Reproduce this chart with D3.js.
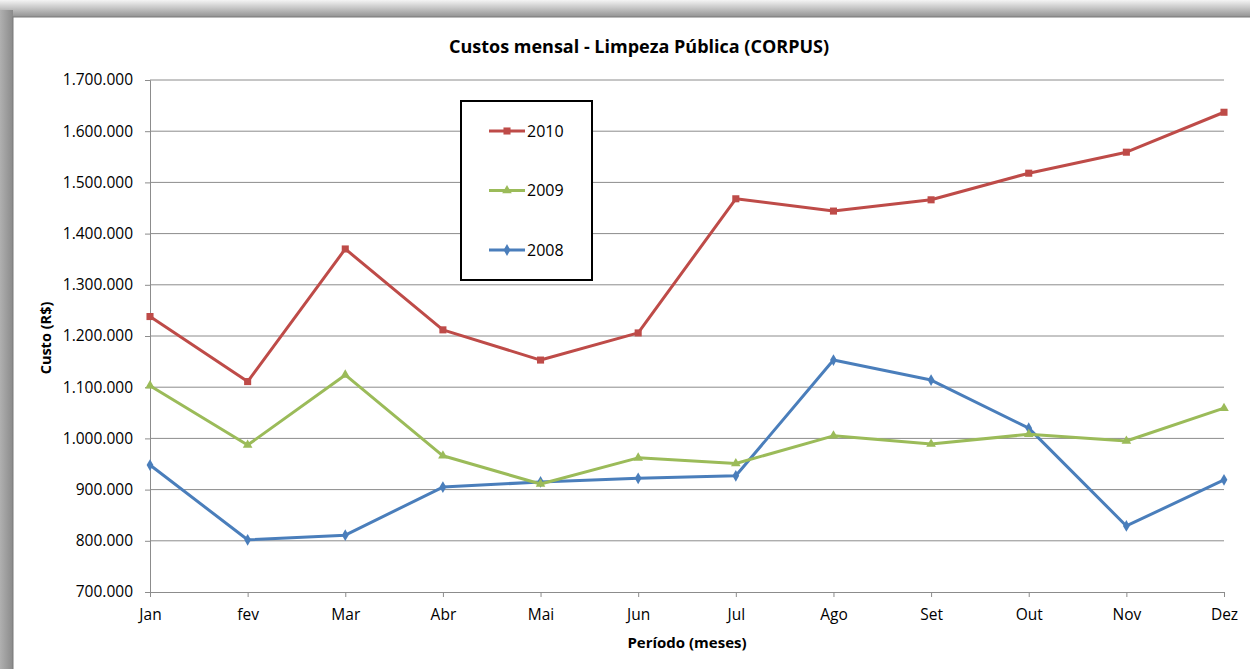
<!DOCTYPE html>
<html><head><meta charset="utf-8">
<script src="https://cdnjs.cloudflare.com/ajax/libs/d3/7.8.5/d3.min.js"></script>
<style>body{margin:0;background:#fff;}svg{display:block;}</style>
</head><body>
<script>
const months = ["Jan","fev","Mar","Abr","Mai","Jun","Jul","Ago","Set","Out","Nov","Dez"];
const values2010 = [1238000,1111000,1370000,1212000,1153000,1206000,1468000,1444000,1466000,1518000,1559000,1637000];
const values2009 = [1103000,987000,1124000,966000,911000,962000,951000,1005000,989000,1008000,995000,1059000];
const values2008 = [948000,802000,811000,905000,915000,922000,927000,1153000,1114000,1020000,829000,919000];
const yTicks = [700000,800000,900000,1000000,1100000,1200000,1300000,1400000,1500000,1600000,1700000];
const seriesNames = ["2010","2009","2008"];

const W=1250,H=669;
const font="'Open Sans', 'Noto Sans', sans-serif";
const svg=d3.select("body").append("svg").attr("width",W).attr("height",H);
const defs=svg.append("defs");
const gT=defs.append("linearGradient").attr("id","gt").attr("x1",0).attr("y1",0).attr("x2",0).attr("y2",1);
gT.append("stop").attr("offset",0).attr("stop-color","#f4f4f4");
gT.append("stop").attr("offset",1).attr("stop-color","#8c8c8c");
const gL=defs.append("linearGradient").attr("id","gl").attr("x1",0).attr("y1",0).attr("x2",1).attr("y2",0);
gL.append("stop").attr("offset",0).attr("stop-color","#b0b0b0");
gL.append("stop").attr("offset",1).attr("stop-color","#8a8a8a");
svg.append("rect").attr("x",0).attr("y",0).attr("width",W).attr("height",18).attr("fill","url(#gt)");
svg.append("rect").attr("x",0).attr("y",10).attr("width",13).attr("height",H).attr("fill","url(#gl)");
svg.append("rect").attr("x",13).attr("y",17).attr("width",W).attr("height",H).attr("fill","#fff").attr("stroke","#7a7a7a").attr("stroke-width",1);

const x=d3.scalePoint().domain(months).range([150,1224]);
const y=d3.scaleLinear().domain([700000,1700000]).range([592,80]);
const fmt=v=>d3.format(",")(v).replace(/,/g,".");

// gridlines
svg.append("g").selectAll("line").data(yTicks.slice(1)).join("line")
 .attr("x1",150).attr("x2",1224).attr("y1",d=>y(d)).attr("y2",d=>y(d))
 .attr("stroke","#8c8c8c").attr("stroke-width",1);

const yAxis=svg.append("g").attr("transform","translate(150,0)")
 .call(d3.axisLeft(y).tickValues(yTicks).tickFormat(fmt).tickSize(5).tickPadding(12));
const xAxis=svg.append("g").attr("transform","translate(0,592)")
 .call(d3.axisBottom(x).tickSize(5).tickPadding(12));
[yAxis,xAxis].forEach(a=>{
 a.select(".domain").attr("stroke","#8c8c8c");
 a.selectAll(".tick line").attr("stroke","#8c8c8c");
 a.selectAll("text").attr("font-family",font).attr("font-size",15.5).attr("fill","#000");
});

const colors={"2010":"#BE4B48","2009":"#9BBB59","2008":"#4A7EBB"};
const data={"2010":values2010,"2009":values2009,"2008":values2008};
const line=d3.line().x((d,i)=>x(months[i])).y(d=>y(d));
const sym={"2010":d3.symbolSquare,"2009":d3.symbolTriangle,"2008":d3.symbolDiamond};
const symSize={"2010":50,"2009":40,"2008":40};
seriesNames.slice().reverse().forEach(s=>{
 svg.append("path").datum(data[s]).attr("d",line).attr("fill","none")
  .attr("stroke",colors[s]).attr("stroke-width",3).attr("stroke-linejoin","round");
 svg.append("g").selectAll("path").data(data[s]).join("path")
  .attr("transform",(d,i)=>`translate(${x(months[i])},${y(d)})`)
  .attr("d",d3.symbol().type(sym[s]).size(symSize[s])).attr("fill",colors[s]);
});

// legend
const lg=svg.append("g");
lg.append("rect").attr("x",461).attr("y",101).attr("width",131).attr("height",179)
 .attr("fill","#fff").attr("stroke","#000").attr("stroke-width",2);
seriesNames.forEach((s,i)=>{
 const ly=131+i*59.5;
 lg.append("line").attr("x1",489).attr("x2",525).attr("y1",ly).attr("y2",ly).attr("stroke",colors[s]).attr("stroke-width",3);
 lg.append("path").attr("transform",`translate(507,${ly})`).attr("d",d3.symbol().type(sym[s]).size(symSize[s])).attr("fill",colors[s]);
 lg.append("text").attr("x",527).attr("y",ly).attr("dy","0.36em").text(s)
  .attr("font-family",font).attr("font-size",16).attr("fill","#000");
});

svg.append("text").attr("x",639).attr("y",53).attr("text-anchor","middle")
 .attr("font-family",font).attr("font-weight","bold").attr("font-size",18).text("Custos mensal - Limpeza Pública (CORPUS)");
svg.append("text").attr("transform","translate(51,338) rotate(-90)").attr("text-anchor","middle")
 .attr("font-family",font).attr("font-weight","bold").attr("font-size",14.5).text("Custo (R$)");
svg.append("text").attr("x",687).attr("y",648).attr("text-anchor","middle")
 .attr("font-family",font).attr("font-weight","bold").attr("font-size",15).text("Período (meses)");
</script>
</body></html>
